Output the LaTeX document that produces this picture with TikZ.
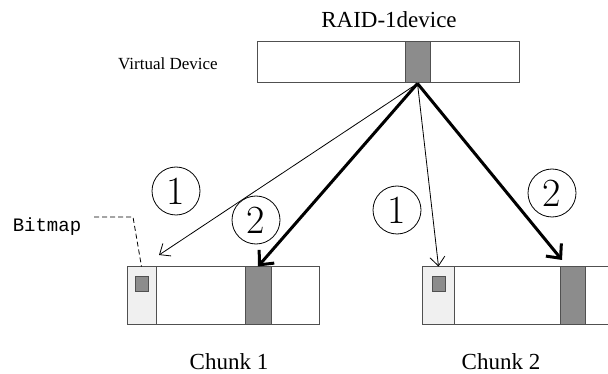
\documentclass[tikz,border=0pt]{standalone}
\usepackage{fontspec}
\setmainfont{Liberation Serif}
\setmonofont{Liberation Mono}
\newfontfamily\numfont{Latin Modern Roman}
\usetikzlibrary{positioning,arrows.meta}
\definecolor{BLK}{HTML}{8C8C8C}
\definecolor{BMP}{HTML}{F0F0F0}
\definecolor{EDGE}{HTML}{505050}
\tikzset{
    B/.style={draw=EDGE,line width=1pt,inner sep=0,minimum height=57pt},
    G/.style={B,fill=BLK},
    C/.style={draw,circle,line width=0.8pt,inner sep=0,minimum size=48pt,
        font={\numfont\fontsize{40}{42}\selectfont}},
    T/.style={-{Straight Barb[length=9pt,width=15pt]},line width=0.8pt},
    K/.style={-{Straight Barb[length=11pt,width=20pt]},line width=3pt},
    L/.style={anchor=base,inner sep=1pt,font={\fontsize{23}{25}\selectfont}},
}

\begin{document}
\begin{tikzpicture}[x=1pt,y=-1pt]
        \clip (0,0) rectangle (608,374);
        % virtual device
        \node[B,minimum width=262pt,minimum height=41pt] (vdev) at (388,62.5) {};
        \node[G,minimum width=25pt,minimum height=41pt] (vblk) at (417.5,62.5) {};
        \node[L] (raid) at (389,28) {RAID-1device};
        \node[anchor=base,font={\fontsize{17}{19}\selectfont}] (vlbl) at (168,70) {Virtual Device};

        % chunk 1
        \node[B,minimum width=192pt] (c1) at (223,295.5) {};
        \node[B,fill=BMP,minimum width=29pt,anchor=west] (c1bm) at (c1.west) {};
        \node[G,minimum width=13pt,minimum height=14pt,below=10pt of c1bm.north] (c1bit) {};
        \node[G,minimum width=26pt] (c1blk) at (258,295.5) {};
        \node[L] (c1lbl) at (229,369) {Chunk 1};

        % chunk 2 (runs off the right edge)
        \node[B,minimum width=200pt,anchor=west] (c2) at (422,295.5) {};
        \node[B,fill=BMP,minimum width=32pt,anchor=west] (c2bm) at (c2.west) {};
        \node[G,minimum width=13pt,minimum height=14pt,below=10pt of c2bm.north] (c2bit) {};
        \node[G,minimum width=25pt] (c2blk) at (572.5,295.5) {};
        \node[L] (c2lbl) at (501,369) {Chunk 2};

        % bitmap label
        \node[anchor=base,font={\ttfamily\fontsize{19}{21}\selectfont}] (bmtxt) at (47,232) {Bitmap};
        \coordinate (bmend) at (94,217);
        \coordinate (bmknee) at (133,217);
        \draw[dash pattern=on 5pt off 3pt,line width=0.8pt] (bmend) -- (bmknee) -- (c1bm.north);

        % writes
        \coordinate (tip1) at (159,255);
        \coordinate (tip4) at (562,260);
        \draw[T] (vblk.south) -- (tip1);
        \draw[K] (vblk.south) -- (c1blk.north);
        \draw[T] (vblk.south) -- (c2bm.north);
        \draw[K] (vblk.south) -- (tip4);

        % order marks
        \node[C] (n1a) at (176,191) {1};
        \node[C] (n2a) at (256,220) {2};
        \node[C] (n1b) at (397,210) {1};
        \node[C] (n2b) at (552,193) {2};
    \end{tikzpicture}
\end{document}
